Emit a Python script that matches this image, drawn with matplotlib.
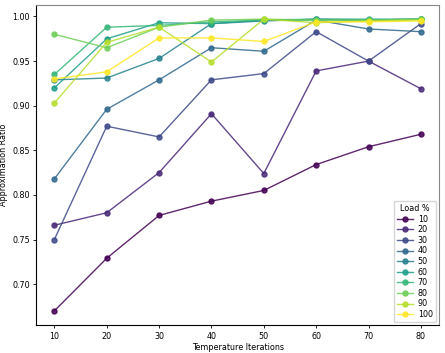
import numpy as np
import matplotlib
matplotlib.use("Agg")
import matplotlib.pyplot as plt

# temperature iterations on the x axis
iterations = [10, 20, 30, 40, 50, 60, 70, 80]
loads = [10, 20, 30, 40, 50, 60, 70, 80, 90, 100]

# approximation ratio per load %
ratio_10 = [0.670, 0.729, 0.777, 0.793, 0.805, 0.834, 0.854, 0.868]
ratio_20 = [0.766, 0.780, 0.825, 0.891, 0.824, 0.939, 0.950, 0.919]
ratio_30 = [0.750, 0.877, 0.865, 0.929, 0.936, 0.983, 0.950, 0.992]
ratio_40 = [0.818, 0.896, 0.929, 0.965, 0.961, 0.996, 0.986, 0.983]
ratio_50 = [0.929, 0.931, 0.953, 0.992, 0.995, 0.997, 0.996, 0.997]
ratio_60 = [0.920, 0.975, 0.993, 0.992, 0.996, 0.997, 0.997, 0.997]
ratio_70 = [0.935, 0.988, 0.990, 0.994, 0.996, 0.996, 0.996, 0.997]
ratio_80 = [0.980, 0.965, 0.988, 0.996, 0.997, 0.996, 0.996, 0.997]
ratio_90 = [0.903, 0.971, 0.988, 0.949, 0.997, 0.993, 0.995, 0.996]
ratio_100 = [0.930, 0.938, 0.976, 0.976, 0.972, 0.994, 0.994, 0.995]

series = [ratio_10, ratio_20, ratio_30, ratio_40, ratio_50,
          ratio_60, ratio_70, ratio_80, ratio_90, ratio_100]

colors = plt.cm.viridis(np.linspace(0, 1, len(loads)))

fig = plt.figure(figsize=(4.45, 3.53), dpi=100)
ax = fig.add_axes([0.081, 0.078, 0.906, 0.909])

for load, vals, c in zip(loads, series, colors):
    ax.plot(iterations, vals, marker='o', markersize=3.6, linewidth=1.0,
            color=c, alpha=0.85, label=str(load))

ax.set_xlabel("Temperature Iterations", fontsize=5.8, labelpad=2)
ax.set_ylabel("Approximation Ratio", fontsize=5.8, labelpad=3)
ax.set_xticks(iterations)
ax.tick_params(labelsize=5.8, length=2.5, width=0.6, pad=2)
ax.yaxis.set_major_formatter(matplotlib.ticker.FormatStrFormatter('%.2f'))

for side in ['left', 'bottom']:
    ax.spines[side].set_linewidth(0.8)
for side in ['top', 'right']:
    ax.spines[side].set_color('#888888')
    ax.spines[side].set_linewidth(0.8)

leg = ax.legend(title="Load %", loc='lower right', fontsize=5.8, title_fontsize=5.8,
                handlelength=2.0, handletextpad=0.6, labelspacing=0.2,
                borderpad=0.4, borderaxespad=0.4)

fig.savefig("out.png", dpi=100)
